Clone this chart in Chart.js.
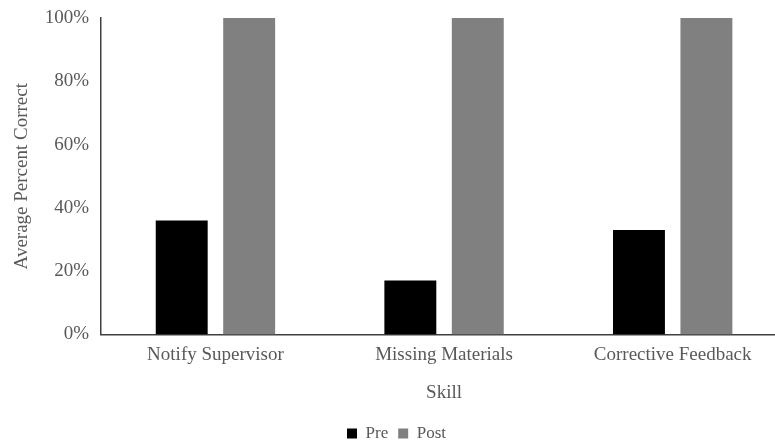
<!DOCTYPE html>
<html lang="en">

<head>
    <meta charset="UTF-8">
    <title>Average Percent Correct by Skill</title>
    <style>
        body {
            margin: 0;
            padding: 0;
            background: #ffffff;
            overflow: hidden;
        }

        .chart-container {
            position: relative;
            width: 790px;
            height: 440px;
        }
    </style>
    <script src="https://cdn.jsdelivr.net/npm/chart.js"></script>
</head>

<body>
    <div class="chart-container">
        <canvas id="skillChart"></canvas>
    </div>
    <script>
        const skills = ['Notify Supervisor', 'Missing Materials', 'Corrective Feedback'];
        const preScores = [36, 17, 33];
        const postScores = [100, 100, 100];
        const yTicks = [0, 20, 40, 60, 80, 100];

        const serif = "'Liberation Serif', 'Times New Roman', serif";
        const textGray = '#595959';

        const ctx = document.getElementById('skillChart').getContext('2d');
        new Chart(ctx, {
            type: 'bar',
            data: {
                labels: skills,
                datasets: [
                    {
                        label: 'Pre',
                        data: preScores,
                        backgroundColor: '#000000',
                        borderWidth: 0,
                        barPercentage: 0.77,
                        categoryPercentage: 0.59
                    },
                    {
                        label: 'Post',
                        data: postScores,
                        backgroundColor: '#808080',
                        borderWidth: 0,
                        barPercentage: 0.77,
                        categoryPercentage: 0.59
                    }
                ]
            },
            options: {
                responsive: true,
                maintainAspectRatio: false,
                animation: false,
                layout: {
                    autoPadding: false,
                    padding: { top: 18, right: 3, left: 6, bottom: -12 }
                },
                scales: {
                    x: {
                        grid: { display: false, drawTicks: false },
                        border: { display: true, color: '#404040', width: 1.5 },
                        ticks: {
                            color: textGray,
                            font: { family: serif, size: 19 },
                            padding: 9,
                            maxRotation: 0
                        },
                        title: {
                            display: true,
                            text: 'Skill',
                            color: textGray,
                            font: { family: serif, size: 19 },
                            padding: { top: 6, bottom: 11 }
                        }
                    },
                    y: {
                        min: 0,
                        max: 100,
                        afterBuildTicks: axis => {
                            axis.ticks = yTicks.map(v => ({ value: v }));
                        },
                        // the label gap would otherwise push the 100% line down
                        afterFit: axis => {
                            axis.paddingTop = 0;
                            axis.paddingBottom = 0;
                        },
                        grid: { display: false, drawTicks: false },
                        border: { display: true, color: '#404040', width: 1.5 },
                        ticks: {
                            color: textGray,
                            font: { family: serif, size: 19 },
                            padding: 12,
                            callback: value => value + '%'
                        },
                        title: {
                            display: true,
                            text: 'Average Percent Correct',
                            color: textGray,
                            font: { family: serif, size: 19 },
                            padding: { top: 5, bottom: -1 }
                        }
                    }
                },
                plugins: {
                    legend: {
                        display: true,
                        position: 'bottom',
                        labels: {
                            color: textGray,
                            font: { family: serif, size: 17 },
                            boxWidth: 10,
                            boxHeight: 10,
                            padding: 10
                        }
                    },
                    tooltip: { enabled: false }
                }
            }
        });
    </script>
</body>

</html>
